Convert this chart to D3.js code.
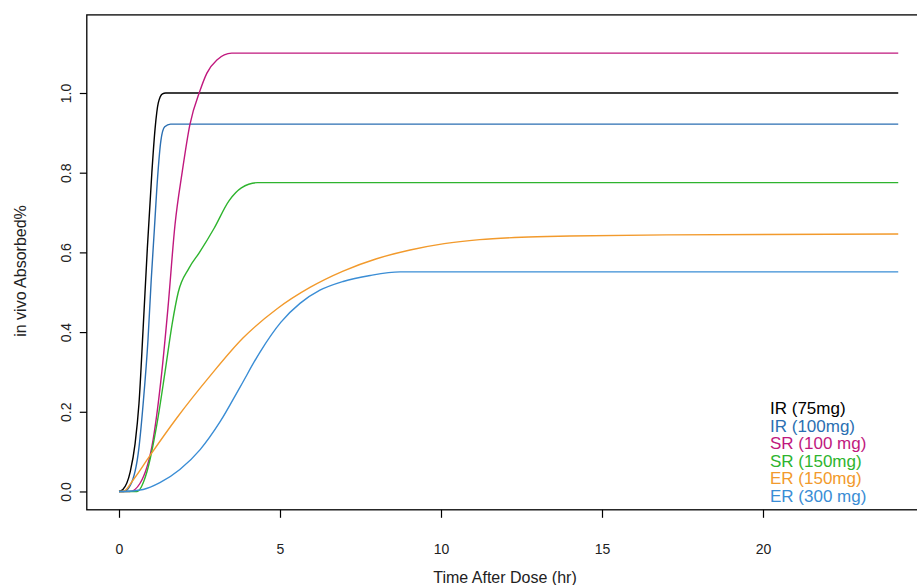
<!DOCTYPE html>
<html><head><meta charset="utf-8">
<script src="https://cdn.jsdelivr.net/npm/d3@7"></script>
<style>
html,body{margin:0;padding:0;background:#fff;overflow:hidden}
text{font-family:"Liberation Sans",Arial,sans-serif}
</style></head>
<body><svg id="c" width="917" height="585"></svg>
<script>
// ---- data (time in hr, fraction absorbed) ----
const seriesNames = ["IR (75mg)","IR (100mg)","SR (100 mg)","SR (150mg)","ER (150mg)","ER (300 mg)"];
const ir75 = [[0,0],[0.12,0.005],[0.35,0.05],[0.5,0.12],[0.62,0.22],[0.75,0.41],[0.88,0.61],[1.02,0.80],[1.12,0.91],[1.22,0.975],[1.35,0.998],[1.45,1.0],[24.2,1.0]];
const ir100 = [[0,0],[0.15,0],[0.35,0.015],[0.62,0.11],[0.75,0.22],[0.9,0.38],[1.0,0.53],[1.1,0.66],[1.2,0.79],[1.3,0.88],[1.42,0.915],[1.6,0.922],[24.2,0.922]];
const sr100 = [[0,0],[0.34,0],[0.65,0.02],[1.06,0.13],[1.33,0.30],[1.52,0.46],[1.74,0.67],[1.96,0.80],[2.2,0.92],[2.52,1.007],[2.73,1.05],[3.04,1.083],[3.5,1.1],[24.2,1.1]];
const sr150 = [[0,0],[0.56,0],[0.87,0.05],[1.18,0.17],[1.43,0.30],[1.65,0.42],[1.84,0.50],[2.17,0.56],[2.5,0.60],[2.95,0.66],[3.42,0.73],[3.8,0.762],[4.3,0.775],[24.2,0.775]];
const er150 = [[0,0],[0.13,0],[0.45,0.03],[0.96,0.09],[1.8,0.185],[2.83,0.29],[3.85,0.385],[4.9,0.458],[5.93,0.512],[6.96,0.553],[8.0,0.584],[9.04,0.606],[10.1,0.622],[11.2,0.632],[12.5,0.638],[14.0,0.641],[17.0,0.644],[24.2,0.646]];
const er300 = [[0,0],[0.13,0],[0.75,0.005],[1.27,0.022],[1.89,0.055],[2.52,0.105],[3.14,0.175],[3.76,0.262],[4.38,0.35],[5.03,0.425],[5.62,0.472],[6.24,0.505],[6.96,0.527],[7.8,0.542],[8.73,0.551],[24.2,0.551]];
const seriesData = [ir75, ir100, sr100, sr150, er150, er300];
const xTicks = [0,5,10,15,20];
const yTicks = [0,0.2,0.4,0.6,0.8,1.0];
const colors = ["#000000","#2B6FB2","#C0187E","#2EB42E","#F29A2C","#3A8DD5"];

const svg = d3.select("#c");
const x = d3.scaleLinear().domain([-1, 26]).range([86.8, 956.2]);
const y = d3.scaleLinear().domain([-0.046, 1.196]).range([509.8, 14.9]);

// plot box
svg.append("rect").attr("x", x(-1)).attr("y", y(1.196)).attr("width", x(26)-x(-1)).attr("height", y(-0.046)-y(1.196))
  .attr("fill","none").attr("stroke","#000").attr("stroke-width",1.3);

// x axis
const xa = svg.append("g").attr("transform",`translate(0,${y(-0.046)})`)
  .call(d3.axisBottom(x).tickValues(xTicks).tickSize(8).tickPadding(26).tickFormat(d3.format("d")));
xa.select(".domain").remove();
xa.selectAll("line").attr("stroke","#000").attr("stroke-width",1.2);
xa.selectAll("text").attr("font-size",14).attr("fill","#222").attr("font-family","Liberation Sans, Arial, sans-serif");

// y axis
const ya = svg.append("g").attr("transform",`translate(${x(-1)},0)`)
  .call(d3.axisLeft(y).tickValues(yTicks).tickSize(7).tickPadding(0).tickFormat(d3.format(".1f")));
ya.select(".domain").remove();
ya.selectAll("line").attr("stroke","#000").attr("stroke-width",1.2);
ya.selectAll("text").attr("font-size",14).attr("fill","#222").attr("font-family","Liberation Sans, Arial, sans-serif")
  .attr("text-anchor","middle").attr("dy",null).attr("x",null)
  .attr("transform","translate(-16,0) rotate(-90)");

// axis titles
svg.append("text").attr("x", 505).attr("y", 583).attr("text-anchor","middle").attr("font-size",16).attr("fill","#222").text("Time After Dose (hr)");
svg.append("text").attr("transform",`translate(26,${271}) rotate(-90)`).attr("text-anchor","middle").attr("font-size",16).attr("fill","#222").text("in vivo Absorbed%");

// lines
const line = d3.line().x(d=>x(d[0])).y(d=>y(d[1])).curve(d3.curveMonotoneX);
svg.append("g").selectAll("path").data(seriesData).join("path")
  .attr("d", line).attr("fill","none").attr("stroke",(d,i)=>colors[i]).attr("stroke-width",1.4);

// legend
svg.append("g").selectAll("text").data(seriesNames).join("text")
  .attr("x", 770).attr("y",(d,i)=>414 + i*17.6).attr("font-size",17).attr("fill",(d,i)=>colors[i]).text(d=>d);
</script></body></html>
